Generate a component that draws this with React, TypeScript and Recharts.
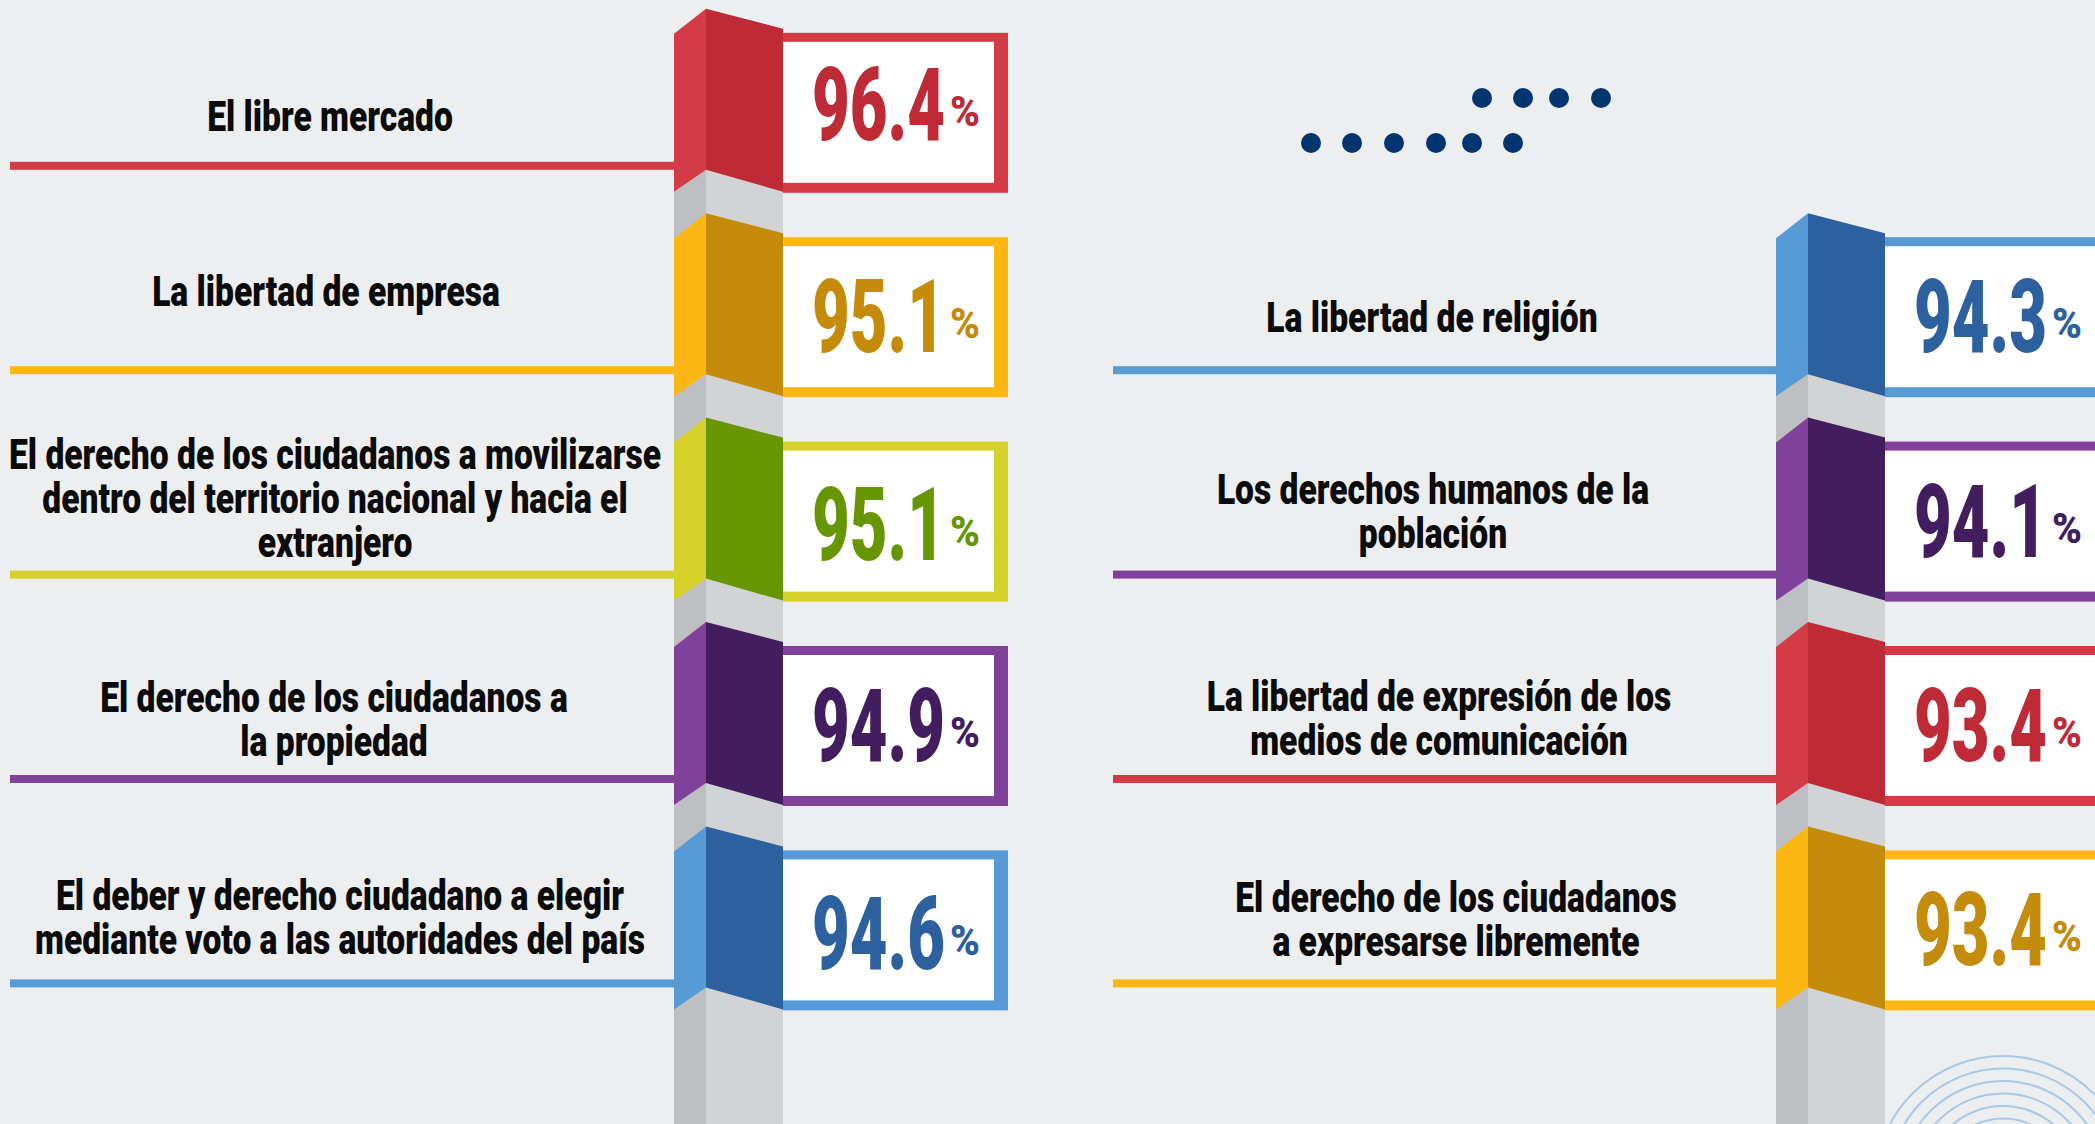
import React from 'react';
import { BarChart, Bar, XAxis, YAxis, Customized } from 'recharts';

// ---------- data ----------
const ROWS = ['r1', 'r2', 'r3', 'r4', 'r5'];

const LEFT_LABELS: string[][] = [
  ['El libre mercado'],
  ['La libertad de empresa'],
  ['El derecho de los ciudadanos a movilizarse', 'dentro del territorio nacional y hacia el', 'extranjero'],
  ['El derecho de los ciudadanos a', 'la propiedad'],
  ['El deber y derecho ciudadano a elegir', 'mediante voto a las autoridades del país'],
];
const LEFT_VALUES = [96.4, 95.1, 95.1, 94.9, 94.6];
const LEFT_COLORS = ['red', 'gold', 'green', 'purple', 'blue'];

const RIGHT_LABELS: (string[] | null)[] = [
  null,
  ['La libertad de religión'],
  ['Los derechos humanos de la', 'población'],
  ['La libertad de expresión de los', 'medios de comunicación'],
  ['El derecho de los  ciudadanos', 'a expresarse libremente'],
];
const RIGHT_VALUES: (number | null)[] = [null, 94.3, 94.1, 93.4, 93.4];
const RIGHT_COLORS: (string | null)[] = [null, 'blue', 'purple', 'red', 'gold'];

// ---------- styles / layout ----------
const PALETTE: Record<string, { light: string; dark: string }> = {
  red: { light: '#d33b47', dark: '#be2a36' },
  gold: { light: '#fdb714', dark: '#c58b0b' },
  green: { light: '#d6d12a', dark: '#679600' },
  purple: { light: '#7f4199', dark: '#421e5f' },
  blue: { light: '#569bd6', dark: '#2d609f' },
};
const LEFT_LAYOUT = {
  pillarX: 674, lineStart: 10,
  centers: [330, 326, 335, 334, 340], firstBase: [122, 93, 51, 90, 84], numBase: [131, 139, 142, 139, 143],
};
const RIGHT_LAYOUT = {
  pillarX: 1776, lineStart: 1113,
  centers: [0, 1432, 1433, 1439, 1456], firstBase: [0, 119, 86, 89, 86], numBase: [0, 139, 139, 139, 139],
};
const LABEL_FONT = 42;
const LABEL_SCALE = 0.8;
const LINE_GAP = 44;
const BG = '#edeef0';
const GRAY_SIDE = '#bebfc3';
const GRAY_FRONT = '#d2d3d5';
const FONT = 'Roboto, "Noto Sans", sans-serif';

const DOTS_TOP_X = [1482, 1523, 1559, 1601];
const DOTS_BOTTOM_X = [1311, 1352, 1394, 1436, 1472, 1513];
const ARC_RADII = [128, 115.5, 103, 90.5, 78, 65.5];

const data = ROWS.map((row, i) => ({ row, left: LEFT_VALUES[i], right: RIGHT_VALUES[i] }));

function Segment({ X0, P, color, value, lines, cx, firstBase, numBase, lineStart }: any) {
  const c = PALETTE[color];
  const boxX = X0 + 109;
  const numX = boxX + 29;
  return (
    <g>
      {/* gray pillar continuing below */}
      <rect x={X0} y={P + 100} width={32} height={600} fill={GRAY_SIDE} />
      <rect x={X0 + 32} y={P + 100} width={77} height={600} fill={GRAY_FRONT} />
      {/* box */}
      <rect x={boxX} y={P + 24} width={225} height={160} fill={c.light} />
      <rect x={boxX} y={P + 33} width={211} height={141} fill="#ffffff" />
      {/* faces */}
      <polygon points={`${X0},${P + 25} ${X0 + 32},${P} ${X0 + 32},${P + 161} ${X0},${P + 183}`} fill={c.light} />
      <polygon points={`${X0 + 32},${P} ${X0 + 109},${P + 20} ${X0 + 109},${P + 183} ${X0 + 32},${P + 161}`} fill={c.dark} />
      {/* value */}
      <text x={numX} y={P + numBase} fontFamily={FONT} fontWeight={900} fontSize={102} fill={c.dark}
        textLength={133} lengthAdjust="spacingAndGlyphs">{value.toFixed(1)}</text>
      <text x={numX + 138} y={P + numBase - 14} fontFamily={FONT} fontWeight={900} fontSize={43} fill={c.dark}
        textLength={30} lengthAdjust="spacingAndGlyphs">%</text>
      {/* rule */}
      <rect x={lineStart} y={P + 153} width={X0 - lineStart} height={8} fill={c.light} />
      {/* label */}
      {lines.map((t: string, j: number) => (
        <text key={j} transform={`translate(${cx},${P + firstBase + j * LINE_GAP}) scale(${LABEL_SCALE},1)`}
          textAnchor="middle" fontFamily={FONT} fontWeight={900} fontSize={LABEL_FONT} fill="#0b0b0b">{t}</text>
      ))}
    </g>
  );
}

const makeShape = (side: 'left' | 'right') => (props: any) => {
  const { y, height, index, payload } = props;
  const value = side === 'left' ? payload.left : payload.right;
  if (value == null || y == null) return <g />;
  const L = side === 'left' ? LEFT_LAYOUT : RIGHT_LAYOUT;
  const lines = side === 'left' ? LEFT_LABELS[index] : RIGHT_LABELS[index];
  const color = side === 'left' ? LEFT_COLORS[index] : RIGHT_COLORS[index];
  const P = y + height / 2 - 104;
  return (
    <Segment X0={L.pillarX} P={P} color={color} value={value} lines={lines || []}
      cx={L.centers[index]} firstBase={L.firstBase[index]} numBase={L.numBase[index]} lineStart={L.lineStart} />
  );
};

function Decor() {
  return (
    <g>
      {DOTS_TOP_X.map((x, i) => <circle key={'t' + i} cx={x} cy={98} r={10} fill="#00356f" />)}
      {DOTS_BOTTOM_X.map((x, i) => <circle key={'b' + i} cx={x} cy={143} r={10} fill="#00356f" />)}
      {ARC_RADII.map((r, i) => <circle key={'a' + i} cx={2003} cy={1184} r={r} fill="none" stroke="#a8c8e8" strokeWidth={2} />)}
    </g>
  );
}

export default function App() {
  return (
    <div style={{ position: 'absolute', left: 0, top: 0, width: 2095, height: 1124, background: BG, overflow: 'hidden' }}>
      <BarChart width={2095} height={1124} data={data} layout="vertical" barCategoryGap={0}
        margin={{ top: 10.8, bottom: 91.2, left: 0, right: 0 }}>
        <XAxis type="number" hide domain={[0, 200]} />
        <YAxis type="category" dataKey="row" hide />
        <Customized component={Decor} />
        <Bar dataKey="left" stackId="s" isAnimationActive={false} shape={makeShape('left')} />
        <Bar dataKey="right" stackId="s" isAnimationActive={false} shape={makeShape('right')} />
      </BarChart>
    </div>
  );
}
